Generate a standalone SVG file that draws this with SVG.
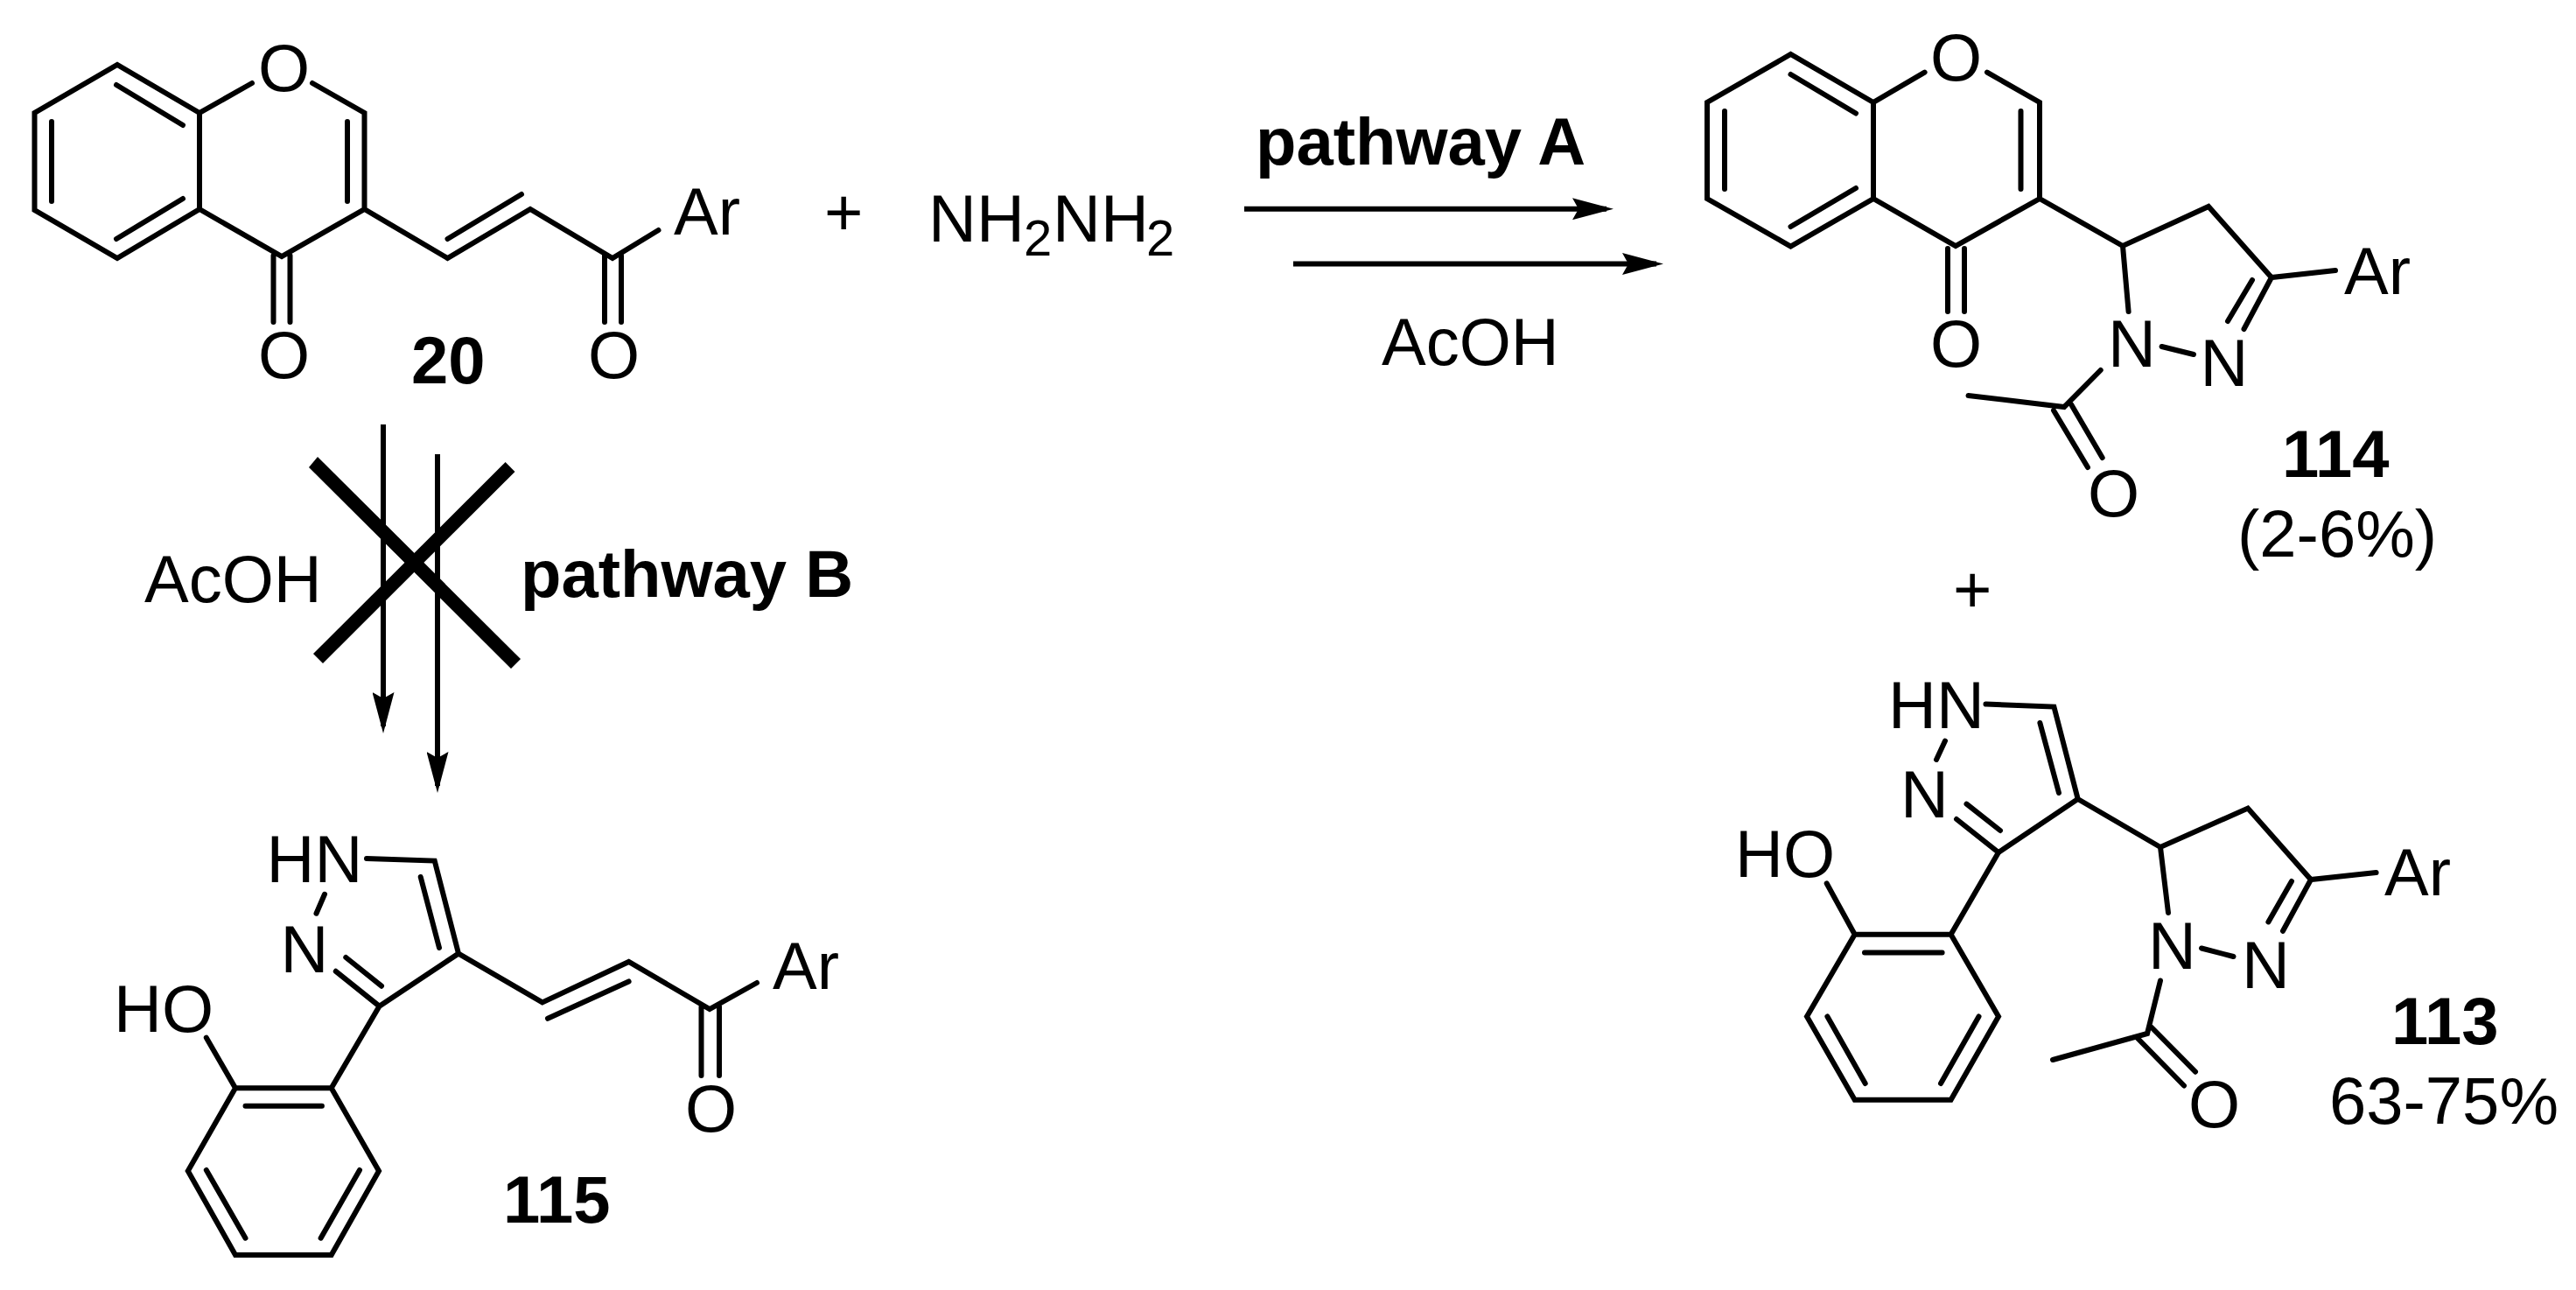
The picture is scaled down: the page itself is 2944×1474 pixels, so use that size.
<svg xmlns="http://www.w3.org/2000/svg" width="2944" height="1474" viewBox="0 0 2944 1474">
<style>
text{font-family:"Liberation Sans",Arial,sans-serif;font-size:76px;fill:#000}
.b{font-weight:bold}
.s{font-size:58px}
.bond{fill:none;stroke:#000;stroke-width:6;stroke-linecap:round;stroke-linejoin:miter;stroke-miterlimit:6}
.arr{fill:none;stroke:#000;stroke-width:6;marker-end:url(#ah)}
.x{fill:#000;stroke:none}
</style>
<defs>
<marker id="ah" markerUnits="userSpaceOnUse" viewBox="0 0 47 25" markerWidth="47" markerHeight="25" refX="39" refY="12.500" orient="auto"><path d="M0 0L47 12.500L0 25L7 12.500Z" fill="#000"/></marker>
</defs>
<rect width="2944" height="1474" fill="#fff"/>
<g id="compound-20">
<path class="bond" d="M228 129L134 74L39.5 129V240L134 295L228 239V129L288 95M357 95L416.5 129V239L322 293L228 239M59 139V230M133 97L209 143M209 227L133 273M397 139V230M312.500 292V368M331.500 292V368M416.500 239L511.500 295L606 239L700 295L752.500 263M511.500 273L596 222M691 292V368M710 292V368"/>
<text x="295" y="432">O</text><text x="295" y="104">O</text><text x="672" y="432">O</text>
<text x="770" y="268">Ar</text>
<text class="b" x="470" y="438">20</text>
</g>
<g id="reagent">
<text x="942" y="269">+</text>
<text x="1061" y="276">NH</text><text class="s" x="1170" y="292">2</text><text x="1203" y="276">NH</text><text class="s" x="1310" y="292">2</text>
<text class="b" x="1435" y="188">pathway A</text>
<text x="1579" y="417">AcOH</text>
</g>
<g id="compound-114">
<path class="bond" d="M2141 117L2046.500 62L1951 117V227L2046.500 281.500L2141 227V117L2199.600 82.600M2271 82.600L2331 117V227L2235 281L2141 227M1971 127V216M2046.500 85L2121 129.500M2121 215L2046.500 259M2309.500 127V216M2226 284V356M2245 284V356M2331 227L2426 281L2524 236L2596 317L2669 309M2426 281L2432.600 356M2596 317L2564.500 376M2574 320L2546 367M2470.600 396L2507 405M2400.700 423L2359 465L2249.500 452M2347 469L2386 534M2367 462L2402.700 523"/>
<text x="2206" y="92">O</text><text x="2206" y="419">O</text><text x="2386" y="590">O</text>
<text x="2679" y="336">Ar</text>
<text x="2409" y="419">N</text><text x="2514.500" y="441">N</text>
<text class="b" x="2608" y="545">114</text>
<text x="2557" y="636">(2-6%)</text>
<text x="2232" y="700">+</text>
</g>
<g id="compound-113">
<path class="bond" d="M2269.500 804.600L2347.400 807.600L2374.700 913L2284 974L2236 936M2331.400 826L2353 906M2286 949L2247.500 918.600M2223 846.600L2213 868M2284 974L2229.600 1067.700H2119.700L2065 1161.500L2119.700 1256.800H2229.600L2284 1161.500L2229.600 1067.700M2131 1088.500H2219.600M2088.400 1161.500L2131.700 1238M2261.500 1161.500L2218 1238M2087.700 1009.500L2119.700 1067.700M2374.700 913L2469 968L2569 923.600L2641 1005L2715.600 997M2641 1005L2609 1063.800M2619 1007L2592.400 1053.400M2469 968L2478 1043M2516 1083.500L2552.500 1093M2469 1120.500L2454 1181L2346 1211M2442.600 1186L2496 1240.500M2459 1174L2509 1224.700"/>
<text x="2158" y="832">HN</text><text x="2172" y="933.500">N</text><text x="1983" y="1002">HO</text>
<text x="2725" y="1023">Ar</text>
<text x="2455" y="1107">N</text><text x="2562" y="1129">N</text><text x="2501" y="1288">O</text>
<text class="b" x="2733" y="1193">113</text>
<text x="2662" y="1284">63-75%</text>
</g>
<g id="compound-115">
<path class="bond" d="M419 981L496.700 983.600L524 1089.600L433.500 1149.700L383.800 1109.800M480.700 1002L502 1083M436 1126.700L395.300 1094M371 1021.800L361.500 1043.700M433.500 1149.700L378.700 1243.300H269L214.800 1338L269 1434H378.700L433 1338L378.700 1243.300M280.500 1263.800H367.900M235.800 1337L280.500 1414.700M411 1337L366.600 1414.700M235.800 1185.700L269 1243.300M524 1089.600L619.800 1145.400L718.600 1099L811 1153L865 1123M626 1163.800L718.600 1121.400M801.500 1150V1229M822 1150V1229"/>
<text x="304.500" y="1008">HN</text><text x="320.500" y="1110.800">N</text><text x="130" y="1179">HO</text>
<text x="883" y="1130">Ar</text><text x="783" y="1293">O</text>
<text class="b" x="575" y="1397">115</text>
</g>
<g id="pathway-b-labels">
<text x="165" y="688">AcOH</text>
<text class="b" x="595" y="682">pathway B</text>
</g>
<g id="connectors">
<line class="arr" x1="1422" y1="238.700" x2="1836" y2="238.700"/>
<line class="arr" x1="1478" y1="301.500" x2="1893" y2="301.500"/>
<line class="arr" x1="438" y1="485" x2="438" y2="830"/>
<line class="arr" x1="500" y1="519" x2="500" y2="898"/>
<polygon class="x" points="363,522 353,534 584,764 595,753"/>
<polygon class="x" points="577.600,528 588.500,539 369,758 358,747"/>
</g>
</svg>
